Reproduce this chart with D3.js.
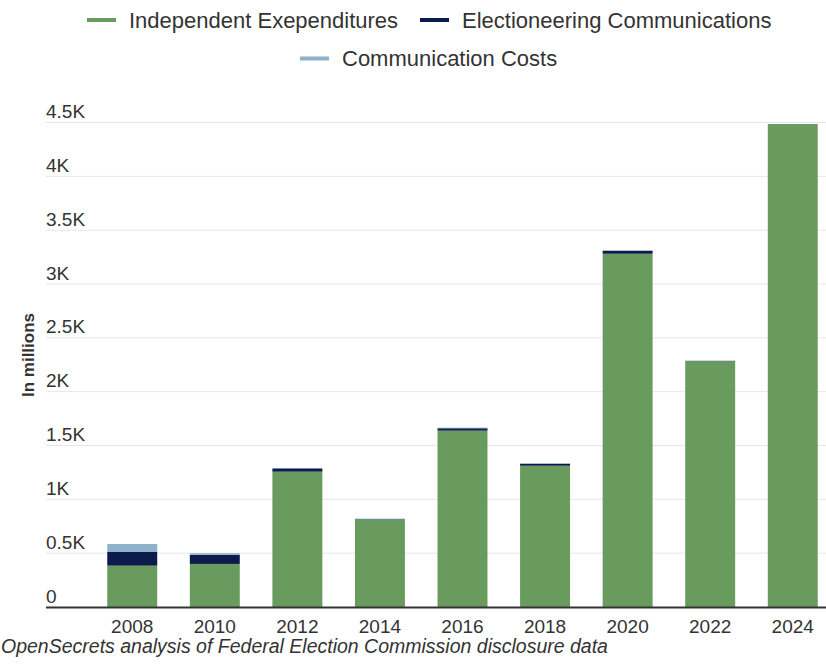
<!DOCTYPE html>
<html>
<head>
<meta charset="utf-8">
<script src="https://cdn.jsdelivr.net/npm/d3@7"></script>
<style>
  html, body { margin: 0; padding: 0; background: #fff; }
  svg { display: block; font-family: "Liberation Sans", Arial, Helvetica, sans-serif; }
</style>
</head>
<body>
<svg id="chart" width="826" height="664"></svg>
<script>
// Outside spending by type, in millions of dollars
const years = ["2008", "2010", "2012", "2014", "2016", "2018", "2020", "2022", "2024"];
const independentExpenditures = [384, 400, 1257, 812, 1638, 1312, 3281, 2283, 4486];
const electioneeringComms = [127, 84, 30, 4, 22, 18, 28, 2, 0];
const communicationCosts = [74, 15, 2, 5, 6, 5, 2, 4, 0];
const yTicks = [0, 500, 1000, 1500, 2000, 2500, 3000, 3500, 4000, 4500];

const seriesNames = ["Independent Exependitures", "Electioneering Communications", "Communication Costs"];
const seriesKeys = ["ie", "ec", "cc"];
const colors = { ie: "#699a5e", ec: "#0c1c4a", cc: "#8fb1c9" };

const rows = years.map((y, i) => ({
  year: y,
  ie: independentExpenditures[i],
  ec: electioneeringComms[i],
  cc: communicationCosts[i]
}));

const svg = d3.select("#chart");
const W = 826;

const x = d3.scaleBand().domain(years).range([91, 834]).paddingInner(0.395).paddingOuter(0.197);
const y = d3.scaleLinear().domain([0, 4500]).range([607, 122.5]);

// Grid lines
svg.append("g")
  .selectAll("line")
  .data(yTicks.filter(d => d > 0))
  .join("line")
  .attr("x1", 46).attr("x2", W)
  .attr("y1", d => y(d)).attr("y2", d => y(d))
  .attr("stroke", "#e6e6e6").attr("stroke-width", 1);

// Y tick labels, sitting above their grid lines
const fmt = d => d === 0 ? "0" : (d / 1000) + "K";
svg.append("g")
  .selectAll("text")
  .data(yTicks)
  .join("text")
  .attr("x", 46)
  .attr("y", d => y(d) - 4.5)
  .attr("fill", "#333")
  .attr("font-size", 19)
  .text(fmt);

// Y axis title
svg.append("text")
  .attr("transform", "translate(34,355) rotate(-90)")
  .attr("text-anchor", "middle")
  .attr("font-size", 17)
  .attr("font-weight", "bold")
  .attr("fill", "#333")
  .text("In millions");

// Stacked bars
const stacked = d3.stack().keys(seriesKeys)(rows);
svg.append("g")
  .selectAll("g")
  .data(stacked)
  .join("g")
  .attr("fill", d => colors[d.key])
  .selectAll("rect")
  .data(d => d)
  .join("rect")
  .attr("x", d => x(d.data.year))
  .attr("width", x.bandwidth())
  .attr("y", d => y(d[1]))
  .attr("height", d => y(d[0]) - y(d[1]));

// X axis baseline
svg.append("line")
  .attr("x1", 46).attr("x2", W)
  .attr("y1", y(0) + 0.5).attr("y2", y(0) + 0.5)
  .attr("stroke", "#333").attr("stroke-width", 2);

// X tick labels
svg.append("g")
  .selectAll("text")
  .data(years)
  .join("text")
  .attr("x", d => x(d) + x.bandwidth() / 2)
  .attr("y", 633)
  .attr("text-anchor", "middle")
  .attr("fill", "#333")
  .attr("font-size", 19)
  .text(d => d);

// Source note
svg.append("text")
  .attr("x", 1)
  .attr("y", 653)
  .attr("font-size", 19.5)
  .attr("font-style", "italic")
  .attr("fill", "#333")
  .text("OpenSecrets analysis of Federal Election Commission disclosure data");

// Legend
const legendItems = [
  { key: "ie", name: seriesNames[0], sx: 87, ty: 20 },
  { key: "ec", name: seriesNames[1], sx: 420, ty: 20 },
  { key: "cc", name: seriesNames[2], sx: 300, ty: 58.5 }
];
const lg = svg.append("g").selectAll("g").data(legendItems).join("g");
lg.append("line")
  .attr("x1", d => d.sx).attr("x2", d => d.sx + 29)
  .attr("y1", d => d.ty).attr("y2", d => d.ty)
  .attr("stroke", d => colors[d.key]).attr("stroke-width", 4);
lg.append("text")
  .attr("x", d => d.sx + 42)
  .attr("y", d => d.ty)
  .attr("dy", "0.35em")
  .attr("font-size", 22)
  .attr("fill", "#333")
  .text(d => d.name);
</script>
</body>
</html>
